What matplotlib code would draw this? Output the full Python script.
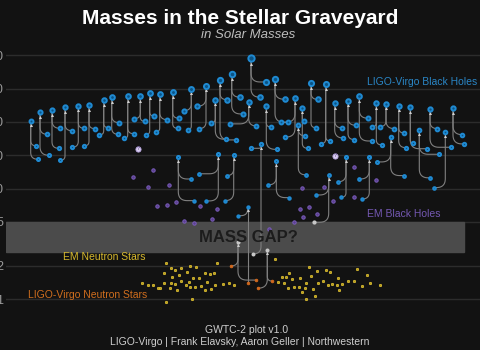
import numpy as np
import matplotlib
matplotlib.use("Agg")
import matplotlib.pyplot as plt
from matplotlib.ticker import NullLocator

plt.rcParams['font.family'] = ['Liberation Sans', 'DejaVu Sans']

# merger events: final remnant + two components (x = horizontal slot, m = solar masses)
final_x = [30.7, 40.0, 52.0, 65.0, 78.3, 89.0, 103.7, 111.7, 127.7, 140.3, 149.7, 159.7,
           172.7, 191.3, 206.0, 215.3, 220.0, 231.7, 248.7, 251.0, 266.3, 275.0, 295.0, 302.3,
           311.0, 325.7, 334.7, 348.0, 359.3, 376.3, 386.0, 398.7, 410.3, 430.0, 453.0,
           390.7, 419.3, 445.3, 346.0, 369.3, 328.7, 178.3, 218.3, 233.7, 247.7, 261.0,
           276.3, 298.3, 267.3, 238.0]
final_m = [40.8, 48.9, 51.0, 54.2, 56.1, 56.5, 62.8, 66.8, 68.2, 68.2, 72.6, 71.1,
           74.6, 79.9, 85.1, 63.6, 95.7, 108, 61.0, 150, 55.4, 97.7, 65.4, 53.5,
           89.4, 87.5, 59.3, 62.3, 68.2, 59.3, 58.1, 55.7, 54.2, 52.7, 53.1,
           29.4, 33.8, 32.7, 19.2, 19.4, 13.3, 19.2, 20.4, 20.1, 6.86, 25.5,
           17.7, 37.3, 2.79, 3.3]
comp1_x = [36.3, 47.3, 58.7, 60.3, 72.0, 84.3, 99.3, 118.3, 124.3, 134.3, 145.7, 156.0,
           178.7, 184.0, 197.3, 210.7, 226.7, 240.0, 230.3, 266.3, 270.7, 285.0, 285.0, 304.3,
           317.7, 330.3, 342.3, 355.7, 367.7, 371.7, 380.0, 404.0, 413.3, 437.3, 462.3,
           404.3, 429.7, 434.0, 337.7, 359.0, 314.0, 191.0, 199.0, 226.7, 238.0, 251.0,
           268.3, 305.3, 272.0, 231.0]
comp1_m = [24.3, 30.9, 23.1, 18.0, 23.6, 24.3, 30.5, 30.9, 28.5, 42.8, 30.7, 32.7,
           43.2, 50.6, 55.4, 39.1, 63.6, 66.8, 38.4, 91.8, 36.0, 64.1, 29.2, 40.5,
           63.9, 26.9, 35.3, 37.3, 43.2, 36.0, 36.3, 31.8, 25.8, 34.8, 30.7,
           13.1, 12.5, 10.2, 11.5, 12.2, 4.96, 12.2, 13.6, 13.1, 5.69, 23.1,
           10.8, 29.9, 1.46, 2.00]
comp2_x = [37.7, 48.7, 60.0, 72.0, 84.3, 94.7, 108.3, 119.0, 133.7, 144.7, 153.7, 167.3,
           177.7, 187.7, 199.0, 225.7, 236.3, 243.0, 256.3, 260.0, 277.0, 288.3, 281.3, 307.7,
           315.7, 321.0, 343.3, 354.3, 371.7, 381.7, 394.3, 406.0, 427.3, 450.7, 464.0,
           377.3, 439.3, np.nan, 341.3, 362.3, 316.3, 194.0, 206.3, 225.0, 247.7, 253.3,
           288.7, 305.7, 257.7, 256.0]
comp2_m = [18.4, 20.0, 35.0, 33.3, 35.0, 34.8, 35.5, 39.4, 31.3, 40.5, 45.3, 41.9,
           35.0, 34.1, 34.8, 27.9, 27.5, 47.2, 36.8, 66.8, 22.6, 39.7, 39.7, 23.1,
           35.5, 25.5, 28.6, 27.7, 26.9, 24.8, 34.8, 23.4, 22.9, 23.6, 25.3,
           17.4, 20.4, np.nan, 8.35, 8.05, 8.75, 7.78, 7.73, 7.78, 1.39, 2.57,
           8.28, 13.3, 1.26, 1.49]

# black holes seen in X-ray binaries
em_bh_x = [133.3, 153.0, 148.0, 169.3, 157.3, 166.7, 176.3, 200.3, 217.3, 184.0, 194.3, 212.0,
           269.0, 301.7, 323.7, 300.3, 309.3, 316.7, 303.3, 294.3, 353.7, 376.3, 354.3, 333.3]
em_bh_m = [12.8, 14.8, 10.4, 10.8, 6.96, 7.16, 7.57, 6.92, 6.50, 5.10, 4.89, 5.31,
           4.32, 10.1, 10.4, 6.54, 6.82, 5.90, 5.50, 4.96, 15.6, 12.0, 8.45, 7.68]

# uncertain objects
q_x = [138.3, 335.3]
q_m = [23.0, 19.7]

# neutron stars seen electromagnetically
em_ns_x = [142.3, 148.3, 153.3, 158.3, 166.0, 164.0, 164.0, 160.0, 166.0, 170.7, 175.0, 180.7,
           172.0, 179.3, 186.7, 171.0, 175.0, 181.3, 170.0, 176.7, 186.0, 190.0, 189.3, 195.0,
           190.3, 196.0, 193.3, 198.7, 200.7, 204.7, 210.0, 214.3, 205.0, 211.0, 207.0, 217.3,
           215.3, 223.3, 229.0, 234.3, 191.7, 274.7, 278.3, 282.0, 286.3, 284.0, 289.3, 292.3,
           288.0, 294.3, 299.3, 300.0, 304.7, 302.3, 305.7, 311.3, 308.7, 316.7, 313.0, 315.3,
           306.0, 318.3, 325.7, 330.3, 337.7, 323.3, 327.7, 332.3, 336.7, 342.3, 339.3, 347.7,
           353.7, 356.7, 367.0, 362.3, 370.0, 380.3]
em_ns_m = [1.39, 1.35, 1.35, 1.26, 2.11, 1.72, 1.41, 1.26, 0.95, 1.91, 1.84, 1.91,
           1.58, 1.67, 1.75, 1.39, 1.37, 1.47, 1.26, 1.20, 1.34, 1.30, 1.44, 1.30,
           2.00, 1.97, 1.55, 1.55, 1.32, 1.73, 1.70, 1.72, 1.21, 1.23, 1.43, 2.14,
           1.35, 1.37, 1.39, 1.34, 1.01, 2.30, 1.43, 1.58, 1.58, 1.39, 1.74, 1.53,
           1.27, 1.29, 1.28, 1.54, 1.26, 1.17, 1.39, 1.62, 1.97, 1.80, 1.23, 1.07,
           1.00, 1.41, 1.83, 1.75, 1.56, 1.47, 1.34, 1.37, 1.35, 1.37, 1.20, 1.45,
           1.45, 1.88, 1.65, 1.32, 1.39, 1.35]

ytick_vals = [1, 2, 5, 10, 20, 40, 80, 160]
gap_low, gap_high = 2.65, 5

BG = "#121212"
BLUE_EDGE = "#1f8ad2"
BLUE_FACE = "#0b5486"
PX_PER_DEC = 110.7

fig = plt.figure(figsize=(4.8, 3.5), dpi=100, facecolor=BG)
ax = fig.add_axes([6 / 480, 0, 474 / 480, 1], facecolor=BG)
ax.set_yscale("log")
ax.set_xlim(6, 480)
ax.set_ylim(0.348, 505)
ax.set_yticks(ytick_vals)
ax.set_yticklabels([str(v) for v in ytick_vals])
ax.yaxis.set_minor_locator(NullLocator())
ax.set_xticks([])
for s in ax.spines.values():
    s.set_visible(False)
ax.tick_params(axis="y", length=0, pad=2, labelsize=9, labelcolor="#9a9a9a")
ax.grid(axis="y", color="#2c2c2c", lw=1)
ax.set_axisbelow(True)

ax.axhspan(gap_low, gap_high, xmin=0, xmax=(464 - 6) / 474, color="#4b4b4b", zorder=1)


def diam(m):
    return 3.0 + 0.4 * np.sqrt(m)


def link(xf, mf, xc, mc):
    # vertical drop from the remnant, rounded corner into the component
    yf = np.log10(mf) * PX_PER_DEC - diam(mf) / 2
    yc = np.log10(mc) * PX_PER_DEC
    dx = xc - xf
    if abs(dx) < 1:
        xs, ys = [xf, xf], [yf, yc]
    else:
        r = min(9, abs(dx), max(yf - yc, 0.5))
        t = np.linspace(0, 1, 14)
        p0 = np.array([xf, yc + r]); p1 = np.array([xf, yc]); p2 = np.array([xf + np.sign(dx) * r, yc])
        bez = ((1 - t) ** 2)[:, None] * p0 + (2 * (1 - t) * t)[:, None] * p1 + (t ** 2)[:, None] * p2
        xs = [xf] + list(bez[:, 0]) + [xc]
        ys = [yf] + list(bez[:, 1]) + [yc]
    ax.plot(xs, 10 ** (np.array(ys) / PX_PER_DEC), color="#808080", lw=0.8, zorder=2)


def color_of(m):
    if m < 2.2:
        return "#d4691c", "#d4691c"
    if m < 5:
        return "#9a9a9a", "#c8c8c8"
    return BLUE_FACE, BLUE_EDGE


for i in range(len(final_x)):
    link(final_x[i], final_m[i], comp1_x[i], comp1_m[i])
    if not np.isnan(comp2_x[i]):
        link(final_x[i], final_m[i], comp2_x[i], comp2_m[i])

all_x = final_x + comp1_x + comp2_x
all_m = final_m + comp1_m + comp2_m
for x, m in zip(all_x, all_m):
    if np.isnan(x):
        continue
    fc, ec = color_of(m)
    if m >= 2.2:
        d = diam(m)
        ax.scatter([x], [m], s=((d - 1.6) * 0.72) ** 2, facecolor=fc, edgecolor=ec,
                   linewidths=1.4, zorder=4)
    else:
        ax.scatter([x], [m], s=(2.8 * 0.72) ** 2, facecolor=fc, edgecolor=ec,
                   linewidths=0.5, zorder=4)

# little arrowheads under each remnant
for x, m in zip(final_x, final_m):
    ya = np.log10(m) * PX_PER_DEC - diam(m) / 2 - 1.5
    ax.plot([x], [10 ** (ya / PX_PER_DEC)], marker="^", ms=2.2, color="#d0d0d0",
            mec="none", zorder=3)

ax.scatter(em_bh_x, em_bh_m, s=(3.4 * 0.72) ** 2, facecolor="#5a3f8e", edgecolor="#7a5cba",
           linewidths=0.7, zorder=4)
ax.scatter(em_ns_x, em_ns_m, s=(2.4 * 0.72) ** 2, facecolor="#b59a1e", edgecolor="#e8c935",
           linewidths=0.5, zorder=4)
ax.scatter(q_x, q_m, s=(5.2 * 0.72) ** 2, facecolor="#d9cdf0", edgecolor="#b8a6e0",
           linewidths=0.6, zorder=4)
for x, m in zip(q_x, q_m):
    ax.text(x, m, "?", fontsize=3.5, color="#6b5a90", ha="center", va="center",
            fontweight="bold", zorder=5)

fig.text(0.5, 1 - 18 / 350, "Masses in the Stellar Graveyard", color="white", fontsize=15,
         fontweight="bold", ha="center", va="center")
fig.text(248 / 480, 1 - 35 / 350, "in Solar Masses", color="#bdbdbd", fontsize=9.5,
         style="italic", ha="center", va="center")
fig.text(477 / 480, 1 - 82 / 350, "LIGO-Virgo Black Holes", color="#2a86c6", fontsize=7.5,
         ha="right", va="center")
fig.text(404 / 480, 1 - 214 / 350, "EM Black Holes", color="#7458b2", fontsize=7.5,
         ha="center", va="center")
fig.text(104 / 480, 1 - 257 / 350, "EM Neutron Stars", color="#d6b82c", fontsize=7.5,
         ha="center", va="center")
fig.text(88 / 480, 1 - 295 / 350, "LIGO-Virgo Neutron Stars", color="#d06e1e", fontsize=7.5,
         ha="center", va="center")
fig.text(248 / 480, 1 - 238 / 350, "MASS GAP?", color="#1c1c1c", fontsize=12,
         fontweight="bold", ha="center", va="center", zorder=10)
fig.text(247 / 480, 1 - 330 / 350, "GWTC-2 plot v1.0", color="#cfcfcf", fontsize=7.5,
         ha="center", va="center")
fig.text(0.5, 1 - 342 / 350, "LIGO-Virgo | Frank Elavsky, Aaron Geller | Northwestern",
         color="#cfcfcf", fontsize=7.5, ha="center", va="center")

fig.savefig("out.png", dpi=100, facecolor=BG)
